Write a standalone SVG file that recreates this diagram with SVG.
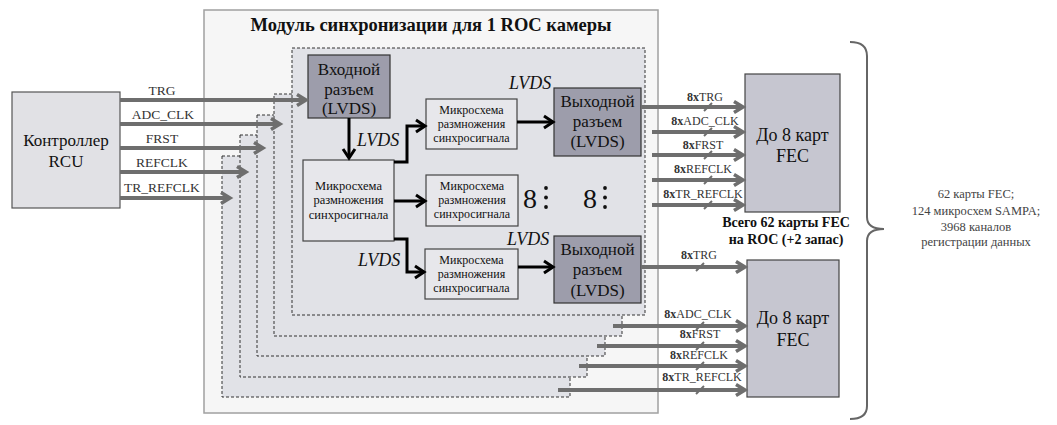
<svg xmlns="http://www.w3.org/2000/svg" width="1057" height="425" viewBox="0 0 1057 425" font-family="'Liberation Serif', 'Times New Roman', serif">
<defs>
<style>
text,tspan{font-family:"Liberation Serif","Times New Roman",serif}
text{fill:#111}
.mod{fill:#f6f6f6;stroke:#a0a0a0;stroke-width:1.5}
.pan{fill:#e1e2e7;stroke:#333;stroke-width:1;stroke-dasharray:3,2}
.dark{fill:#9d9dab;stroke:#333;stroke-width:1.2}
.light{fill:#e7e7eb;stroke:#444;stroke-width:1.2}
.fec{fill:#c6c6d0;stroke:#444;stroke-width:1.2}
.ctl{fill:#e1e1e5;stroke:#555;stroke-width:1.2}
.g{stroke:#6e6e6e;stroke-width:4;fill:none}
.b{stroke:#000;stroke-width:3;fill:none}
.tk{stroke:#6e6e6e;stroke-width:2}
.big{font-size:17px;text-anchor:middle}
.sm{font-size:12px;text-anchor:middle}
.mm{font-size:12.5px;text-anchor:middle}
.sig{font-size:13.5px;text-anchor:middle;fill:#333}
.out{font-size:12px;text-anchor:middle;fill:#333}
.lv{font-size:18px;font-style:italic}
.fc{font-size:18px;text-anchor:middle}
.tot{font-size:14px;font-weight:bold;text-anchor:middle}
.sum{font-size:12.5px;text-anchor:middle;fill:#444}
.b8{font-weight:bold}
</style>
<marker id="ag" markerUnits="userSpaceOnUse" markerWidth="16" markerHeight="16" refX="12" refY="8" orient="auto"><path d="M3,2.5 L12,8 L3,13.5" fill="none" stroke="#6e6e6e" stroke-width="3.5"/></marker>
<marker id="ab" markerUnits="userSpaceOnUse" markerWidth="16" markerHeight="16" refX="12" refY="8" orient="auto"><path d="M3,2 L12,8 L3,14" fill="none" stroke="#000" stroke-width="3"/></marker>
</defs>
<rect width="1057" height="425" fill="#fff"/>

<g id="module">
<rect class="mod" x="204" y="10" width="454" height="403"/>
<text x="431" y="31" font-size="18.5" font-weight="bold" text-anchor="middle">Модуль синхронизации для 1 ROC камеры</text>
</g>

<g id="panels">
<rect class="pan" x="222" y="156" width="348" height="241"/>
<rect class="pan" x="240" y="135" width="347" height="242"/>
<rect class="pan" x="257" y="115" width="348" height="241"/>
<rect class="pan" x="274" y="94" width="348" height="242"/>
<rect class="pan" x="292" y="48" width="353" height="267"/>
</g>

<g id="controller">
<rect class="ctl" x="12" y="92" width="108" height="116"/>
<text class="big" x="66" y="146">Контроллер</text>
<text class="big" x="66" y="167">RCU</text>
</g>

<g id="input">
<rect class="dark" x="308" y="55" width="82" height="63"/>
<text class="big" x="349" y="75">Входной</text>
<text class="big" x="349" y="95">разъем</text>
<text class="big" x="349" y="114">(LVDS)</text>
</g>

<g id="mux-main">
<rect class="light" x="303" y="160" width="91" height="81"/>
<text class="mm" x="348.5" y="190">Микросхема</text>
<text class="mm" x="348.5" y="204">размножения</text>
<text class="mm" x="348.5" y="219">синхросигнала</text>
</g>

<g id="mux1">
<rect class="light" x="426" y="99" width="91" height="50"/>
<text class="sm" x="471.5" y="114">Микросхема</text>
<text class="sm" x="471.5" y="128">размножения</text>
<text class="sm" x="471.5" y="142">синхросигнала</text>
</g>
<g id="mux2">
<rect class="light" x="426" y="175" width="92" height="51"/>
<text class="sm" x="472" y="190">Микросхема</text>
<text class="sm" x="472" y="204">размножения</text>
<text class="sm" x="472" y="218">синхросигнала</text>
</g>
<g id="mux3">
<rect class="light" x="425" y="249" width="93" height="50"/>
<text class="sm" x="471.5" y="264">Микросхема</text>
<text class="sm" x="471.5" y="278">размножения</text>
<text class="sm" x="471.5" y="292">синхросигнала</text>
</g>

<g id="output1">
<rect class="dark" x="554" y="88" width="87" height="68"/>
<text class="big" x="597.5" y="107">Выходной</text>
<text class="big" x="597.5" y="127">разъем</text>
<text class="big" x="597.5" y="147">(LVDS)</text>
</g>
<g id="output2">
<rect class="dark" x="554" y="236" width="87" height="67"/>
<text class="big" x="597.5" y="255">Выходной</text>
<text class="big" x="597.5" y="275">разъем</text>
<text class="big" x="597.5" y="296">(LVDS)</text>
</g>

<g id="ellipsis">
<text x="523" y="208" font-size="28">8</text>
<circle cx="546" cy="188" r="1.9" fill="#111"/><circle cx="546" cy="197.5" r="1.9" fill="#111"/><circle cx="546" cy="207" r="1.9" fill="#111"/>
<text x="583" y="208" font-size="28">8</text>
<circle cx="605" cy="188" r="1.9" fill="#111"/><circle cx="605" cy="197.5" r="1.9" fill="#111"/><circle cx="605" cy="207" r="1.9" fill="#111"/>
</g>

<g id="fec1">
<rect class="fec" x="745" y="74" width="95" height="138"/>
<text class="fc" x="792.5" y="141">До 8 карт</text>
<text class="fc" x="792.5" y="162">FEC</text>
</g>
<g id="fec2">
<rect class="fec" x="747" y="260" width="92" height="137"/>
<text class="fc" x="793" y="324">До 8 карт</text>
<text class="fc" x="793" y="346">FEC</text>
</g>

<g id="total">
<text class="tot" x="786" y="227">Всего 62 карты FEC</text>
<text class="tot" x="786" y="244">на ROC (+2 запас)</text>
</g>

<g id="summary">
<path d="M850,42 Q867,42 867,56 V217 Q867,229 884,229 Q867,229 867,241 V406 Q867,419 850,419" fill="none" stroke="#666" stroke-width="2"/>
<text class="sum" x="976" y="198">62 карты FEC;</text>
<text class="sum" x="976" y="215">124 микросхем SAMPA;</text>
<text class="sum" x="976" y="231">3968 каналов</text>
<text class="sum" x="976" y="246">регистрации данных</text>
</g>

<g id="connectors">
<line class="g" x1="120" y1="100" x2="306" y2="100" marker-end="url(#ag)"/>
<line class="g" x1="120" y1="124" x2="280" y2="124" marker-end="url(#ag)"/>
<line class="g" x1="120" y1="148" x2="263" y2="148" marker-end="url(#ag)"/>
<line class="g" x1="120" y1="172" x2="246" y2="172" marker-end="url(#ag)"/>
<line class="g" x1="120" y1="198" x2="230" y2="198" marker-end="url(#ag)"/>
<text class="sig" x="162" y="95">TRG</text>
<text class="sig" x="163" y="119">ADC_CLK</text>
<text class="sig" x="162" y="143">FRST</text>
<text class="sig" x="162" y="167">REFCLK</text>
<text class="sig" x="162" y="192">TR_REFCLK</text>

<line class="b" x1="349" y1="118" x2="349" y2="158" marker-end="url(#ab)"/>
<path class="b" d="M394,162 H407 V126 H425" marker-end="url(#ab)"/>
<line class="b" x1="394" y1="201" x2="425" y2="201" marker-end="url(#ab)"/>
<path class="b" d="M394,239 H407 V272 H424" marker-end="url(#ab)"/>
<line class="b" x1="517" y1="122" x2="553" y2="122" marker-end="url(#ab)"/>
<line class="b" x1="518" y1="267" x2="553" y2="267" marker-end="url(#ab)"/>
<text class="lv" x="357" y="146">LVDS</text>
<text class="lv" x="358" y="266">LVDS</text>
<text class="lv" x="509" y="89">LVDS</text>
<text class="lv" x="507" y="245">LVDS</text>

<line class="g" x1="641" y1="107" x2="743" y2="107" marker-end="url(#ag)"/>
<line class="g" x1="652" y1="132" x2="743" y2="132" marker-end="url(#ag)"/>
<line class="g" x1="652" y1="155" x2="743" y2="155" marker-end="url(#ag)"/>
<line class="g" x1="652" y1="180" x2="743" y2="180" marker-end="url(#ag)"/>
<line class="g" x1="652" y1="205" x2="743" y2="205" marker-end="url(#ag)"/>
<line class="tk" x1="704" y1="111" x2="712" y2="103"/>
<line class="tk" x1="704" y1="136" x2="712" y2="128"/>
<line class="tk" x1="704" y1="159" x2="712" y2="151"/>
<line class="tk" x1="704" y1="184" x2="712" y2="176"/>
<line class="tk" x1="704" y1="209" x2="712" y2="201"/>
<text class="out" x="705" y="101"><tspan class="b8">8x</tspan>TRG</text>
<text class="out" x="705" y="125"><tspan class="b8">8x</tspan>ADC_CLK</text>
<text class="out" x="703" y="149"><tspan class="b8">8x</tspan>FRST</text>
<text class="out" x="703" y="173"><tspan class="b8">8x</tspan>REFCLK</text>
<text class="out" x="703" y="198"><tspan class="b8">8x</tspan>TR_REFCLK</text>

<line class="g" x1="641" y1="267" x2="745" y2="267" marker-end="url(#ag)"/>
<line class="g" x1="613" y1="326" x2="745" y2="326" marker-end="url(#ag)"/>
<line class="g" x1="597" y1="346" x2="745" y2="346" marker-end="url(#ag)"/>
<line class="g" x1="579" y1="366" x2="745" y2="366" marker-end="url(#ag)"/>
<line class="g" x1="558" y1="390" x2="745" y2="390" marker-end="url(#ag)"/>
<line class="tk" x1="696" y1="271" x2="704" y2="263"/>
<line class="tk" x1="696" y1="330" x2="704" y2="322"/>
<line class="tk" x1="696" y1="350" x2="704" y2="342"/>
<line class="tk" x1="696" y1="370" x2="704" y2="362"/>
<line class="tk" x1="696" y1="394" x2="704" y2="386"/>
<text class="out" x="699" y="259"><tspan class="b8">8x</tspan>TRG</text>
<text class="out" x="698" y="318"><tspan class="b8">8x</tspan>ADC_CLK</text>
<text class="out" x="700" y="338"><tspan class="b8">8x</tspan>FRST</text>
<text class="out" x="699" y="359"><tspan class="b8">8x</tspan>REFCLK</text>
<text class="out" x="702" y="381"><tspan class="b8">8x</tspan>TR_REFCLK</text>
</g>
</svg>
